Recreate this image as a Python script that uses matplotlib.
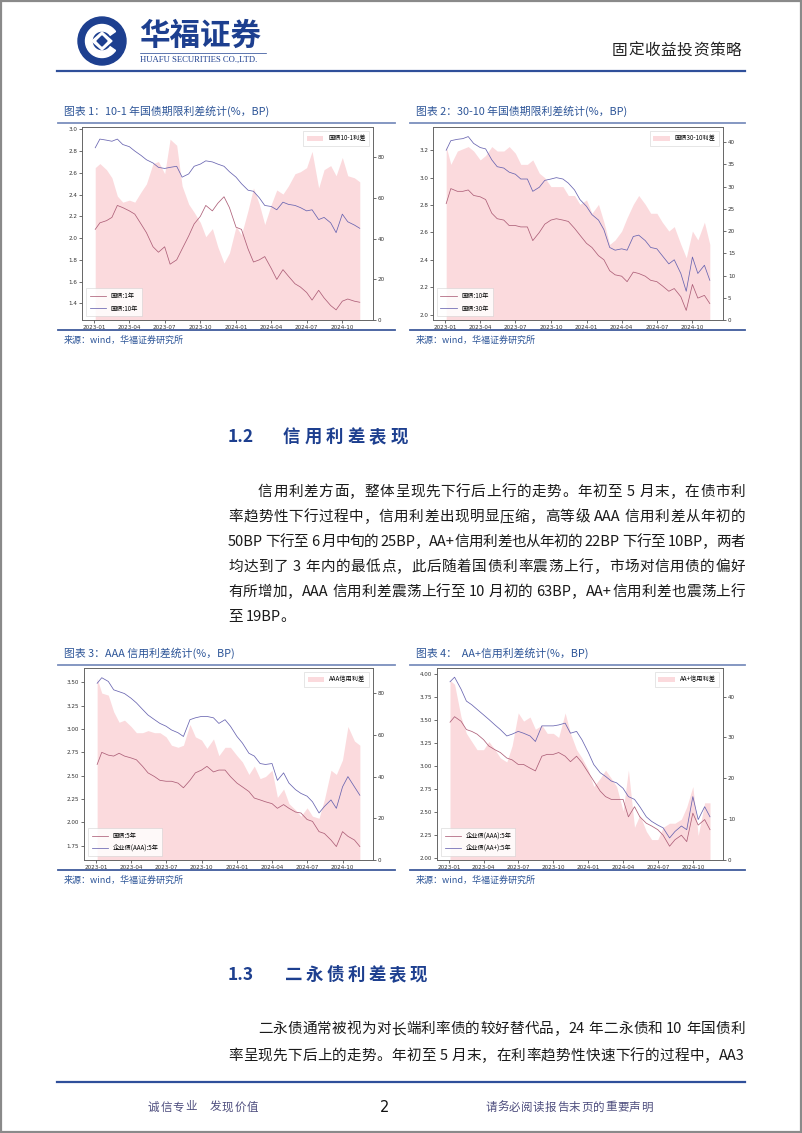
import re
import numpy as np
import pandas as pd
import matplotlib
matplotlib.use('Agg')
import matplotlib.pyplot as plt
import matplotlib.dates as mdates
from matplotlib.patches import Circle, Wedge, Rectangle, Polygon
from matplotlib.font_manager import FontProperties, findfont, get_font
from matplotlib.ticker import FixedLocator, FormatStrFormatter

try:
    from matplotlib.ft2font import LoadFlags
    NOHINT = LoadFlags.NO_HINTING
except Exception:
    from matplotlib.ft2font import LOAD_NO_HINTING as NOHINT

plt.rcParams['font.family'] = ['Noto Sans CJK SC', 'DejaVu Sans']
plt.rcParams['axes.unicode_minus'] = False

W, H = 802, 1133

# ---------------- data (semi-monthly readings) ----------------
DATES = pd.date_range('2023-01-01', '2024-11-15', freq='SMS')
DATES = DATES.where(DATES != pd.Timestamp('2023-01-01'), pd.Timestamp('2023-01-03'))

# Chart 1: 国债 1Y / 10Y (%)
c1_y1 = [2.08, 2.14, 2.16, 2.19, 2.30, 2.28, 2.25, 2.22, 2.13, 2.05, 1.92, 1.87,
         1.92, 1.76, 1.80, 1.90, 2.02, 2.13, 2.20, 2.30, 2.25, 2.32, 2.38, 2.28,
         2.10, 2.08, 1.90, 1.78, 1.80, 1.83, 1.72, 1.62, 1.71, 1.65, 1.58, 1.55,
         1.50, 1.43, 1.52, 1.45, 1.38, 1.34, 1.42, 1.44, 1.42, 1.41]
c1_y10 = [2.83, 2.91, 2.90, 2.89, 2.91, 2.86, 2.84, 2.80, 2.76, 2.72, 2.69, 2.65,
          2.64, 2.65, 2.66, 2.56, 2.59, 2.66, 2.68, 2.71, 2.70, 2.68, 2.66, 2.61,
          2.56, 2.50, 2.44, 2.43, 2.37, 2.30, 2.29, 2.26, 2.33, 2.31, 2.30, 2.28,
          2.25, 2.26, 2.17, 2.19, 2.14, 2.05, 2.22, 2.15, 2.12, 2.09]

# Chart 2: 国债 10Y / 30Y (%)
c2_y10 = [2.81, 2.92, 2.90, 2.90, 2.91, 2.87, 2.86, 2.84, 2.74, 2.70, 2.69, 2.65,
          2.65, 2.64, 2.64, 2.54, 2.60, 2.66, 2.69, 2.70, 2.69, 2.68, 2.63, 2.58,
          2.52, 2.49, 2.43, 2.40, 2.32, 2.29, 2.28, 2.24, 2.31, 2.30, 2.28, 2.25,
          2.24, 2.21, 2.17, 2.19, 2.13, 2.03, 2.22, 2.12, 2.14, 2.08]
c2_y30 = [3.20, 3.27, 3.28, 3.285, 3.30, 3.25, 3.22, 3.21, 3.13, 3.08, 3.07, 3.04,
          3.025, 2.99, 2.99, 2.90, 2.93, 2.98, 2.99, 3.00, 2.99, 2.96, 2.91, 2.84,
          2.79, 2.73, 2.69, 2.62, 2.49, 2.47, 2.48, 2.47, 2.57, 2.58, 2.54, 2.49,
          2.48, 2.43, 2.37, 2.40, 2.30, 2.17, 2.42, 2.30, 2.36, 2.25]

# Chart 3: 国债 5Y / 企业债(AAA) 5Y (%)
c3_gov5 = [2.62, 2.75, 2.72, 2.71, 2.74, 2.71, 2.69, 2.67, 2.60, 2.53, 2.49, 2.45,
           2.44, 2.44, 2.42, 2.37, 2.45, 2.53, 2.56, 2.60, 2.54, 2.56, 2.56, 2.49,
           2.42, 2.38, 2.33, 2.26, 2.24, 2.22, 2.20, 2.15, 2.19, 2.15, 2.11, 2.10,
           2.03, 2.01, 1.90, 1.88, 1.81, 1.74, 1.90, 1.85, 1.81, 1.74]
c3_aaa5 = [3.49, 3.55, 3.51, 3.42, 3.40, 3.38, 3.33, 3.28, 3.21, 3.15, 3.10, 3.06,
           3.03, 2.99, 2.96, 2.92, 3.10, 3.12, 3.135, 3.135, 3.12, 3.06, 3.10, 3.03,
           2.92, 2.85, 2.74, 2.71, 2.63, 2.62, 2.63, 2.45, 2.53, 2.42, 2.35, 2.31,
           2.28, 2.22, 2.10, 2.17, 2.24, 2.15, 2.38, 2.49, 2.38, 2.29]

# Chart 4: 企业债(AAA) 5Y / 企业债(AA+) 5Y (%)
c4_aaa5 = [3.48, 3.54, 3.49, 3.40, 3.38, 3.35, 3.29, 3.22, 3.18, 3.15, 3.09, 3.07,
           3.02, 3.02, 2.98, 2.95, 3.11, 3.13, 3.13, 3.15, 3.11, 3.05, 3.11, 3.04,
           2.93, 2.84, 2.73, 2.67, 2.64, 2.64, 2.64, 2.45, 2.56, 2.45, 2.38, 2.35,
           2.31, 2.25, 2.13, 2.20, 2.25, 2.18, 2.49, 2.36, 2.42, 2.31]
c4_aap5 = [3.92, 3.97, 3.84, 3.71, 3.67, 3.62, 3.56, 3.51, 3.45, 3.40, 3.33, 3.35,
           3.38, 3.36, 3.33, 3.27, 3.44, 3.44, 3.44, 3.45, 3.47, 3.36, 3.38, 3.29,
           3.15, 3.02, 2.93, 2.89, 2.84, 2.82, 2.76, 2.67, 2.64, 2.56, 2.45, 2.40,
           2.36, 2.33, 2.22, 2.29, 2.35, 2.31, 2.67, 2.42, 2.56, 2.45]

# ---------------- styles ----------------
PINK = '#fbdadd'
RED = '#ad5f78'
BLUE = '#6864b0'
TITLE_BLUE = '#2d5598'
NAVY = '#1d3f8f'

fig = plt.figure(figsize=(W / 100, H / 100), dpi=100)
pg = fig.add_axes([0, 0, 1, 1])
pg.set_xlim(0, W)
pg.set_ylim(H, 0)
pg.axis('off')


def px_axes(l, t, r, b):
    return fig.add_axes([l / W, 1 - b / H, (r - l) / W, (b - t) / H])


# ---------------- text helpers ----------------
_font = get_font(findfont(FontProperties(family='Noto Sans CJK SC')))


def char_adv(c, size):
    _font.set_size(size, 100)
    g = _font.load_char(ord(c), flags=NOHINT)
    return g.linearHoriAdvance / 65536.0


def tok_adv(t, size):
    return sum(char_adv(c, size) for c in t)


def text_line(x0, x1, y, s, size=10.5, color='#1a1a1a', justify=True, **kw):
    toks = re.findall(r'[A-Za-z0-9+.%]+| |.', s)
    widths = [tok_adv(t, size) for t in toks]
    total = sum(widths)
    extra = (x1 - x0 - total) / (len(toks) - 1) if (justify and len(toks) > 1) else 0
    x = x0
    for t, w in zip(toks, widths):
        if t != ' ':
            pg.text(x, y, t, fontsize=size, color=color, ha='left', va='center', **kw)
        x += w + extra


def spaced(x0, step, y, s, size, color, **kw):
    for i, c in enumerate(s):
        if c != ' ':
            pg.text(x0 + i * step, y, c, fontsize=size, color=color, ha='left', va='center', **kw)


# ---------------- page frame / header / footer ----------------
pg.add_patch(Rectangle((0.8, 0.8), W - 1.6, H - 1.6, fill=False, ec='#8a8a8a', lw=1.6))

# logo
pg.add_patch(Circle((102, 41), 24, color=NAVY, zorder=2))
pg.add_patch(Wedge((102, 41), 16.5, 35, 325, width=6.5, color='white', zorder=3))
pg.add_patch(Polygon([(102, 32), (112, 41), (102, 50), (92, 41)], closed=True,
                     color='white', zorder=3))
pg.add_patch(Polygon([(102, 36), (107, 41), (102, 46), (97, 41)], closed=True,
                     color=NAVY, zorder=4))
pg.text(139, 36, '华福证券', fontsize=22, fontweight='bold', color=NAVY, ha='left', va='center')
pg.plot([140, 266], [52.5, 52.5], color=NAVY, lw=0.5)
pg.text(140, 59.5, 'HUAFU SECURITIES CO.,LTD.', fontsize=6.2, family='Liberation Serif',
        color=NAVY, ha='left', va='center')
spaced(612, 16.2, 50, '固定收益投资策略', 11.3, '#222222')
pg.plot([57, 745], [71, 71], color='#2f4f9a', lw=1.6)

pg.plot([57, 745], [1082, 1082], color='#2f4f9a', lw=1.6)
spaced(148, 12.3, 1107, '诚信专业 发现价值', 8.3, '#4e4e7e')
pg.text(385, 1107, '2', fontsize=10.5, color='#111111', ha='center', va='center', family='DejaVu Sans')
spaced(485, 12.0, 1107, '请务必阅读报告末页的重要声明', 8.3, '#4e4e7e')

# ---------------- body text ----------------
pg.text(228, 437, '1.2', fontsize=12.5, fontweight='bold', color=NAVY, ha='left', va='center')
spaced(283, 21.5, 437, '信用利差表现', 12.5, NAVY, fontweight='bold')

L, R = 228, 745
p1 = ['信用利差方面，整体呈现先下行后上行的走势。年初至 5 月末，在债市利',
      '率趋势性下行过程中，信用利差出现明显压缩，高等级 AAA 信用利差从年初的',
      '50BP 下行至 6 月中旬的 25BP，AA+信用利差也从年初的 22BP 下行至 10BP，两者',
      '均达到了 3 年内的最低点，此后随着国债利率震荡上行，市场对信用债的偏好',
      '有所增加，AAA 信用利差震荡上行至 10 月初的 63BP，AA+信用利差也震荡上行',
      '至 19BP。']
for i, s in enumerate(p1):
    x0 = L + 30 if i == 0 else L
    text_line(x0, R, 492 + 25 * i, s, justify=(i < len(p1) - 1))

pg.text(228, 975, '1.3', fontsize=12.5, fontweight='bold', color=NAVY, ha='left', va='center')
spaced(285, 20.8, 975, '二永债利差表现', 12.5, NAVY, fontweight='bold')
p2 = ['二永债通常被视为对长端利率债的较好替代品，24 年二永债和 10 年国债利',
      '率呈现先下后上的走势。年初至 5 月末，在利率趋势性快速下行的过程中，AA3']
for i, s in enumerate(p2):
    x0 = L + 30 if i == 0 else L
    text_line(x0, R, 1029 + 27 * i, s)


# ---------------- charts ----------------
def chart(box, sep_x, sep_y, title, title_y, src_y, short, long, labels, fill_label,
          ylim_l, yticks_l, fmt, ylim_r, yticks_r):
    pg.plot(sep_x, [sep_y[0]] * 2, color='#7b8fbd', lw=1.3)
    pg.plot(sep_x, [sep_y[1]] * 2, color='#3f5b9c', lw=1.3)
    pg.text(sep_x[0] + 6, title_y, title, fontsize=7.8, color=TITLE_BLUE, style='italic',
            ha='left', va='center')
    pg.text(sep_x[0] + 6, src_y, '来源：wind，华福证券研究所', fontsize=6.5, color=TITLE_BLUE,
            style='italic', ha='left', va='center')

    ax = px_axes(*box)
    ax2 = ax.twinx()
    short = np.asarray(short)
    long = np.asarray(long)
    spread = (long - short) * 100
    ax2.fill_between(DATES, 0, spread, color=PINK, lw=0, label=fill_label)
    ax.plot(DATES, short, color=RED, lw=0.55, label=labels[0])
    ax.plot(DATES, long, color=BLUE, lw=0.55, label=labels[1])
    ax.set_zorder(ax2.get_zorder() + 1)
    ax.patch.set_visible(False)

    ax.set_ylim(*ylim_l)
    ax.yaxis.set_major_locator(FixedLocator(yticks_l))
    ax.yaxis.set_major_formatter(FormatStrFormatter(fmt))
    ax2.set_ylim(*ylim_r)
    ax2.yaxis.set_major_locator(FixedLocator(yticks_r))
    ax.xaxis.set_major_locator(mdates.MonthLocator(bymonth=[1, 4, 7, 10]))
    ax.xaxis.set_major_formatter(mdates.DateFormatter('%Y-%m'))

    for a in (ax, ax2):
        a.tick_params(labelsize=4.1, length=2, width=0.5, pad=1.5, colors='#333333')
        for sp in a.spines.values():
            sp.set_color('#666666')
            sp.set_linewidth(0.6)
        for lab in a.get_xticklabels() + a.get_yticklabels():
            lab.set_family('DejaVu Sans')

    lg1 = ax.legend(loc='lower left', fontsize=4.5, handlelength=2.6, frameon=True,
                    edgecolor='#cccccc', framealpha=0.85, borderpad=0.6, labelspacing=0.7,
                    borderaxespad=0.6, fancybox=False)
    lg1.get_frame().set_linewidth(0.4)
    lg2 = ax2.legend(loc='upper right', fontsize=4.5, handlelength=2.6, frameon=True,
                     edgecolor='#cccccc', framealpha=0.85, borderpad=0.6,
                     borderaxespad=0.6, fancybox=False)
    lg2.get_frame().set_linewidth(0.4)


chart((82, 127, 373, 320), [58, 395], [123, 330], '图表 1：10-1 年国债期限利差统计(%，BP)', 111, 340,
      c1_y1, c1_y10, ['国债:1年', '国债:10年'], '国债10-1利差',
      (1.247, 3.021), [1.4, 1.6, 1.8, 2.0, 2.2, 2.4, 2.6, 2.8, 3.0], '%.1f',
      (0, 95), [0, 20, 40, 60, 80])

chart((433, 127, 723, 320), [410, 745], [123, 330], '图表 2：30-10 年国债期限利差统计(%，BP)', 111, 340,
      c2_y10, c2_y30, ['国债:10年', '国债:30年'], '国债30-10利差',
      (1.96, 3.37), [2.0, 2.2, 2.4, 2.6, 2.8, 3.0, 3.2], '%.1f',
      (0, 43.4), [0, 5, 10, 15, 20, 25, 30, 35, 40])

chart((84, 668, 373, 860), [58, 395], [665, 870], '图表 3：AAA 信用利差统计(%，BP)', 653, 880,
      c3_gov5, c3_aaa5, ['国债:5年', '企业债(AAA):5年'], 'AAA信用利差',
      (1.596, 3.654), [1.75, 2.0, 2.25, 2.5, 2.75, 3.0, 3.25, 3.5], '%.2f',
      (0, 92), [0, 20, 40, 60, 80])

chart((437, 668, 723, 860), [410, 745], [665, 870], '图表 4：  AA+信用利差统计(%，BP)', 653, 880,
      c4_aaa5, c4_aap5, ['企业债(AAA):5年', '企业债(AA+):5年'], 'AA+信用利差',
      (1.98, 4.07), [2.0, 2.25, 2.5, 2.75, 3.0, 3.25, 3.5, 3.75, 4.0], '%.2f',
      (0, 47), [0, 10, 20, 30, 40])

fig.savefig('out.png', dpi=100)
